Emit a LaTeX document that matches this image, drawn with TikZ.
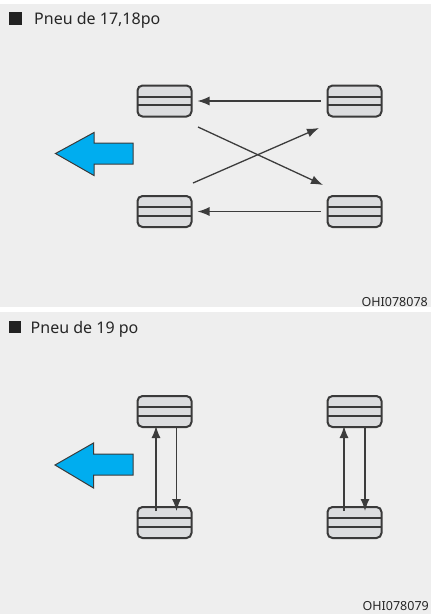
\documentclass[tikz,border=0pt]{standalone}
\usepackage{fontspec}
\setmainfont{Noto Sans}
\usetikzlibrary{arrows.meta}
\definecolor{bg}{HTML}{EEEEEE}
\definecolor{tirefill}{HTML}{DCDDDF}
\definecolor{tireline}{HTML}{3A3A3A}
\definecolor{arr}{HTML}{3C3C3C}
\definecolor{blue}{HTML}{00ADEF}
\definecolor{txt}{HTML}{262626}
\tikzset{
  tire/.style={draw=tireline, line width=2pt, fill=tirefill, rounded corners=5pt,
    minimum width=54pt, minimum height=31pt, inner sep=0pt,
    path picture={
      \draw[tireline, line width=1.7pt] ([yshift=4.2pt]path picture bounding box.west) -- ([yshift=4.2pt]path picture bounding box.east);
      \draw[tireline, line width=1.7pt] ([yshift=-4.2pt]path picture bounding box.west) -- ([yshift=-4.2pt]path picture bounding box.east);
    }},
  conn/.style={draw=arr, line width=1.3pt, -{Latex[length=12pt,width=9pt]}},
  bluearrow/.style={fill=blue, draw=tireline, line width=1pt, line join=miter},
  title/.style={anchor=base west, inner sep=0pt, text=txt, font=\fontsize{16}{19}\selectfont},
  code/.style={anchor=base east, inner sep=0pt, text=txt, font=\fontsize{12.5}{14}\selectfont},
  marker/.style={fill=txt!90!black}
}
\begin{document}
\begin{tikzpicture}[x=1pt,y=-1pt]
\useasboundingbox (0,0) rectangle (431,614);
\fill[white] (0,0) rectangle (431,614);
\fill[bg] (0,4) rectangle (431,307);
\fill[bg] (0,312) rectangle (431,614);

% ---------- Panel 1 ----------
\fill[marker] (8.5,12) rectangle (21.5,24.5);
\node[title] (t1) at (34,24.5) {Pneu de 17,18po};

\node[tire] (TL) at (164.5,101) {};
\node[tire] (TR) at (354.5,101) {};
\node[tire] (BL) at (164.5,211.5) {};
\node[tire] (BR) at (354.5,211.5) {};

\draw[conn] ([xshift=-6pt]TR.west) -- ([xshift=5pt]TL.east);
\draw[conn] ([xshift=-6pt]BR.west) -- ([xshift=5pt]BL.east);

\coordinate (c1s) at (198,127);
\coordinate (c1e) at (323,185);
\coordinate (c2s) at (193,183);
\coordinate (c2e) at (319,128);
\draw[conn] (c1s) -- (c1e);
\draw[conn] (c2s) -- (c2e);

\draw[bluearrow] (55.5,153.5) -- (94,132.5) -- (94,143) -- (133,143) -- (133,164) -- (94,164) -- (94,175.5) -- cycle;

\node[code] (k1) at (428,306) {OHI078078};

% ---------- Panel 2 ----------
\fill[marker] (8.5,321) rectangle (21,333);
\node[title] (t2) at (30.5,333) {Pneu de 19 po};

\node[tire] (UL) at (164.5,411.5) {};
\node[tire] (UR) at (354.5,411.5) {};
\node[tire] (LL) at (164.5,522.5) {};
\node[tire] (LR) at (354.5,522.5) {};

\draw[conn] ([xshift=-8.5pt,yshift=-5pt]LL.north) -- ([xshift=-8.5pt,yshift=2pt]UL.south);
\draw[conn] ([xshift=12pt,yshift=2pt]UL.south) -- ([xshift=12pt,yshift=-5pt]LL.north);
\draw[conn] ([xshift=-10.5pt,yshift=-5pt]LR.north) -- ([xshift=-10.5pt,yshift=2pt]UR.south);
\draw[conn] ([xshift=10.5pt,yshift=2pt]UR.south) -- ([xshift=10.5pt,yshift=-5pt]LR.north);

\draw[bluearrow] (55,465) -- (93.5,443) -- (93.5,454) -- (133,454) -- (133,475) -- (93.5,475) -- (93.5,488) -- cycle;

\node[code] (k2) at (429,610.5) {OHI078079};
\end{tikzpicture}
\end{document}
